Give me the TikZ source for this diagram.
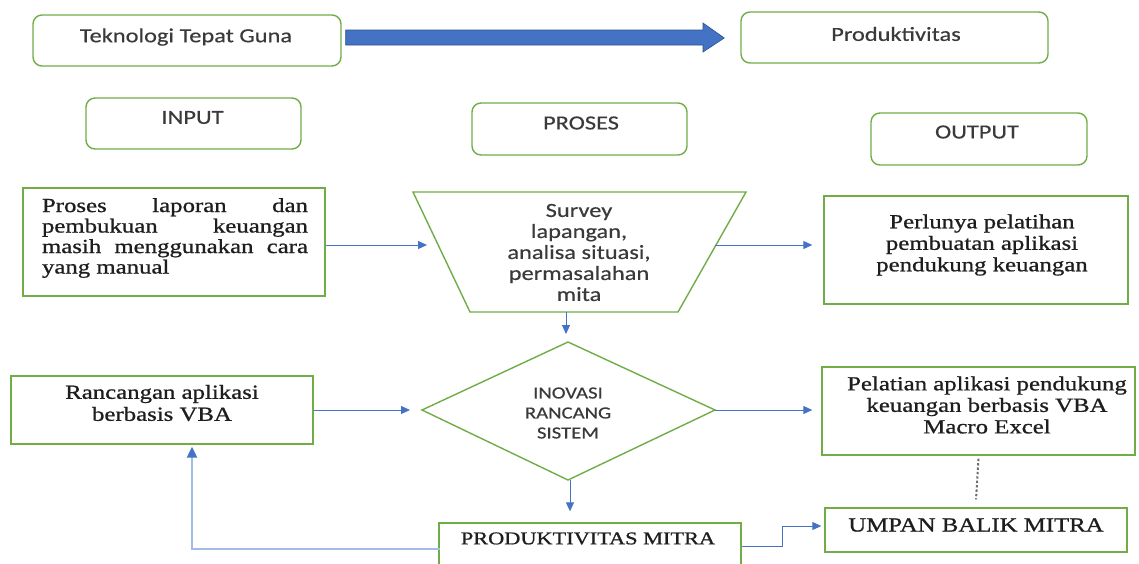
\documentclass[tikz,border=0pt]{standalone}
\usepackage{fontspec}
\usetikzlibrary{arrows.meta,calc}
\newfontfamily\mysansfam[FakeStretch=1.22,FakeBold=0.4]{Carlito}
\newfontfamily\myseriffam[FakeStretch=1.24,FakeBold=0.9]{Liberation Serif}
\hbadness=10000
\hyphenpenalty=10000
\definecolor{boxgreen}{HTML}{70AD47}
\definecolor{arrblue}{HTML}{4472C4}
\definecolor{bigblue}{HTML}{4472C4}
\definecolor{bigborder}{HTML}{2F528F}
\definecolor{fbblue}{HTML}{A3BCE6}
\definecolor{txtsans}{HTML}{3A3A3A}
\definecolor{txtserif}{HTML}{1E1E1E}
\definecolor{dotgray}{HTML}{6E6E6E}
\tikzset{
  rbox/.style={draw=boxgreen, line width=1.4pt, rounded corners=9pt, inner sep=0pt},
  sbox/.style={draw=boxgreen, line width=1.4pt, inner sep=0pt},
  shapeline/.style={draw=boxgreen, line width=1.4pt, line join=miter},
  sanstxt/.style={font=\mysansfam\fontsize{20}{21}\selectfont, text=txtsans, align=center, inner sep=0pt},
  smallsans/.style={font=\mysansfam\fontsize{17}{20}\selectfont, text=txtsans, align=center, inner sep=0pt},
  seriftxt/.style={font=\myseriffam\fontsize{20}{21.5}\selectfont, text=txtserif, align=center, inner sep=0pt},
  conn/.style={draw=arrblue, line width=0.9pt, -{Triangle[length=9pt,width=8pt]}},
  fbline/.style={draw=fbblue, line width=2.2pt, -{Triangle[length=11pt,width=10pt,color=arrblue]}},
  dotline/.style={draw=dotgray, line width=2pt, dash pattern=on 2.4pt off 2pt},
}
\begin{document}
\begin{tikzpicture}[x=1pt,y=-1pt]
\useasboundingbox (0,0) rectangle (1139,563);
\clip (0,0) rectangle (1139,563);
\fill[white] (0,0) rectangle (1139,563);

% top row
\node[rbox, minimum width=308pt, minimum height=51pt] (ttg) at (187,40.5) {};
\node[sanstxt] (ttgt) at (186,37) {Teknologi Tepat Guna};
\node[rbox, minimum width=307pt, minimum height=51pt] (prod) at (894.5,37.5) {};
\node[sanstxt] (prodt) at (896,34) {Produktivitas};
\fill[bigblue, draw=bigborder, line width=0.6pt]
  ([xshift=4pt]ttg.east |- 0,30) -- (703,30) -- (703,23) -- ([xshift=-16pt]prod.west |- 0,38) -- (703,52) -- (703,45) -- ([xshift=4pt]ttg.east |- 0,45) -- cycle;

% headers
\node[rbox, minimum width=215pt, minimum height=51pt] (inp) at (193.5,123.5) {};
\node[sanstxt] (inpt) at (192.5,117.5) {INPUT};
\node[rbox, minimum width=215pt, minimum height=52pt] (pros) at (579.5,129) {};
\node[sanstxt] (prost) at (581,123) {PROSES};
\node[rbox, minimum width=216pt, minimum height=52pt] (outp) at (979,139) {};
\node[sanstxt] (outpt) at (977,132) {OUTPUT};

% row 1
\node[sbox, minimum width=302pt, minimum height=108pt] (ibox) at (174,242) {};
\node[seriftxt, font=\myseriffam\fontsize{20}{20.5}\selectfont, text width=266pt, align=justify] (iboxt) at (175,238)
  {Proses laporan dan\linebreak pembukuan keuangan\linebreak masih menggunakan cara\linebreak yang manual};

\coordinate (tzA) at (413,192);
\coordinate (tzB) at (746,192);
\coordinate (tzC) at (678,312);
\coordinate (tzD) at (470,312);
\draw[shapeline] (tzA) -- (tzB) -- (tzC) -- (tzD) -- cycle;
\node[sanstxt] (survt) at (579,252.5) {Survey\\lapangan,\\analisa situasi,\\permasalahan\\mita};

\node[sbox, minimum width=304pt, minimum height=108pt] (perl) at (976,250) {};
\node[seriftxt] (perlt) at (982,245) {Perlunya pelatihan\\pembuatan aplikasi\\pendukung keuangan};

% row 2
\node[sbox, minimum width=302pt, minimum height=68pt] (ranc) at (162,410) {};
\node[seriftxt, font=\myseriffam\fontsize{20}{22}\selectfont] (ranct) at (162,403) {Rancangan aplikasi\\berbasis VBA};

\coordinate (dmT) at (568,342);
\coordinate (dmR) at (715,410);
\coordinate (dmB) at (568,480);
\coordinate (dmL) at (422,410);
\draw[shapeline] (dmT) -- (dmR) -- (dmB) -- (dmL) -- cycle;
\node[smallsans] (dmt) at (568,413) {INOVASI\\RANCANG\\SISTEM};

\node[sbox, minimum width=313pt, minimum height=88pt] (pel) at (978.5,411) {};
\node[seriftxt] (pelt) at (987,405) {Pelatian aplikasi pendukung\\keuangan berbasis VBA\\Macro Excel};

% row 3
\node[sbox, minimum width=302pt, minimum height=67pt] (pm) at (590,556.5) {};
\node[seriftxt, font=\myseriffam\fontsize{18}{20}\selectfont] (pmt) at (588,538.5) {PRODUKTIVITAS MITRA};
\node[sbox, minimum width=302pt, minimum height=44pt] (umpan) at (976,530) {};
\node[seriftxt] (umpant) at (976,525) {UMPAN BALIK MITRA};

% connectors
\coordinate (tzL) at (427,245);
\coordinate (tzR) at (715,245);
\coordinate (tzBot) at (566,312);
\coordinate (dmTa) at (566,334);
\coordinate (dmLa) at (410,410);
\coordinate (dmBo) at (570,480);
\coordinate (fbc) at (192,549);
\coordinate (elb1) at (782,546);
\coordinate (elb2) at (782,526);

\draw[conn] (ibox.east |- tzL) -- (tzL);
\draw[conn, shorten >=11pt] (tzR) -- (perl.west |- tzR);
\draw[conn] (tzBot) -- (dmTa);
\draw[conn] (ranc.east) -- (dmLa);
\draw[conn, shorten >=9pt] (dmR) -- (pel.west |- dmR);
\draw[conn, shorten >=11pt] (dmBo) -- (dmBo |- pm.north);
\draw[fbline, shorten >=2pt] ([xshift=2pt]pm.west |- fbc) -- (fbc) -- (fbc |- ranc.south);
\draw[conn, shorten >=3pt] (pm.east |- elb1) -- (elb1) -- (elb2) -- (umpan.west |- elb2);
\draw[dotline] ([yshift=-3pt]pel.south) -- ([yshift=8pt]umpan.north);
\end{tikzpicture}
\end{document}
